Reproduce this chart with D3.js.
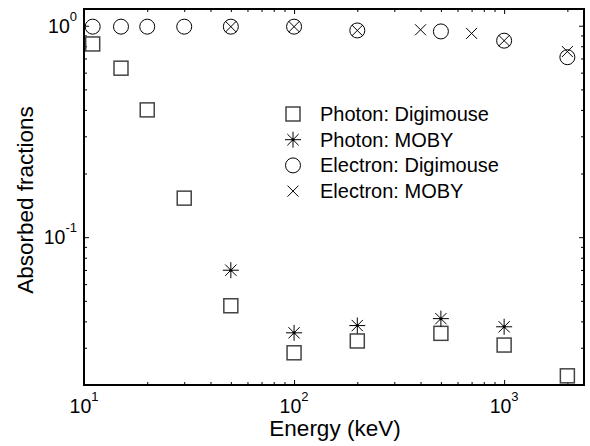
<!DOCTYPE html>
<html>
<head>
<meta charset="utf-8">
<script src="https://cdn.jsdelivr.net/npm/d3@7"></script>
<style>
  body { margin: 0; background: #fff; }
  text { font-family: Arial, "Liberation Sans", sans-serif; fill: #000; }
</style>
</head>
<body>
<svg id="chart" width="590" height="446"></svg>
<script>
// values
const energyPhotonDigi = [11, 15, 20, 30, 50, 100, 200, 500, 1000, 2000];
const photonDigi = [0.82, 0.63, 0.40, 0.153, 0.0474, 0.0284, 0.0323, 0.0351, 0.0309, 0.0221];
const energyPhotonMoby = [50, 100, 200, 500, 1000];
const photonMoby = [0.0698, 0.0353, 0.0382, 0.0412, 0.0377];
const energyElectronDigi = [11, 15, 20, 30, 50, 100, 200, 500, 1000, 2000];
const electronDigi = [0.99, 0.99, 0.99, 0.99, 0.99, 0.99, 0.95, 0.94, 0.85, 0.71];
const energyElectronMoby = [50, 100, 200, 400, 700, 1000, 2000];
const electronMoby = [0.99, 0.99, 0.95, 0.957, 0.92, 0.85, 0.755];

const xMajor = [10, 100, 1000];
const xMajorLabels = ['1', '2', '3'];
const yMajor = [0.1, 1];
const yMajorLabels = ['-1', '0'];
const legendLabels = ['Photon: Digimouse', 'Photon: MOBY', 'Electron: Digimouse', 'Electron: MOBY'];

const margin = { left: 84, top: 9, right: 6, bottom: 61 };
const width = 590 - margin.left - margin.right;
const height = 446 - margin.top - margin.bottom;

const svg = d3.select('#chart');
const g = svg.append('g').attr('transform', `translate(${margin.left},${margin.top})`);

const x = d3.scaleLog().domain([10, 2400]).range([0, width]);
const y = d3.scaleLog().domain([0.02, 1.2]).range([height, 0]);

// minor ticks for each decade
function minors(lo, hi) {
    let out = [];
    for (let d = Math.pow(10, Math.floor(Math.log10(lo))); d <= hi; d *= 10) {
        for (let k = 2; k <= 9; k++) {
            const v = k * d;
            if (v >= lo && v <= hi) out.push(v);
        }
    }
    return out;
}
const xMinor = minors(10, 2400);
const yMinor = minors(0.02, 1.2);

function tickAxis(axisFn, scale, major, minor) {
    return [
        axisFn(scale).tickValues(minor).tickSize(-3).tickFormat(''),
        axisFn(scale).tickValues(major).tickSize(-5).tickFormat('')
    ];
}

const placements = [
    { fn: d3.axisBottom, s: x, maj: xMajor, min: xMinor, t: `translate(0,${height})` },
    { fn: d3.axisTop, s: x, maj: xMajor, min: xMinor, t: 'translate(0,0)' },
    { fn: d3.axisLeft, s: y, maj: yMajor, min: yMinor, t: 'translate(0,0)' },
    { fn: d3.axisRight, s: y, maj: yMajor, min: yMinor, t: `translate(${width},0)` }
];
placements.forEach(p => {
    tickAxis(p.fn, p.s, p.maj, p.min).forEach(ax => {
        const a = g.append('g').attr('transform', p.t).call(ax);
        a.select('.domain').remove();
        a.selectAll('line').attr('stroke', '#000').attr('stroke-width', 1);
    });
});

// frame
g.append('rect')
    .attr('width', width).attr('height', height)
    .attr('fill', 'none').attr('stroke', '#000').attr('stroke-width', 2);

// tick labels
xMajor.forEach((v, i) => {
    const t = g.append('text')
        .attr('x', x(v)).attr('y', height + 28)
        .attr('text-anchor', 'middle')
        .style('font-size', '19.5px');
    t.append('tspan').text('10');
    t.append('tspan').attr('dy', -12).style('font-size', '13px').text(xMajorLabels[i]);
});
yMajor.forEach((v, i) => {
    const t = g.append('text')
        .attr('x', -7).attr('y', y(v) + 7)
        .attr('text-anchor', 'end')
        .style('font-size', '19.5px');
    t.append('tspan').text('10');
    t.append('tspan').attr('dy', -12).style('font-size', '13px').text(yMajorLabels[i]);
});

// axis titles
svg.append('text')
    .attr('x', margin.left + 251).attr('y', 436)
    .attr('text-anchor', 'middle')
    .style('font-size', '22.5px')
    .text('Energy (keV)');
svg.append('text')
    .attr('transform', 'translate(33,200) rotate(-90)')
    .attr('text-anchor', 'middle')
    .style('font-size', '22.5px')
    .text('Absorbed fractions');

// marker painters
function square(sel, cx, cy) {
    sel.append('rect')
        .attr('x', cx - 7).attr('y', cy - 7).attr('width', 14).attr('height', 14)
        .attr('fill', 'none').attr('stroke', '#444').attr('stroke-width', 1.5);
}
function star(sel, cx, cy) {
    const r = 8;
    [0, 45, 90, 135].forEach(a => {
        const rad = a * Math.PI / 180;
        sel.append('line')
            .attr('x1', cx - r * Math.cos(rad)).attr('y1', cy - r * Math.sin(rad))
            .attr('x2', cx + r * Math.cos(rad)).attr('y2', cy + r * Math.sin(rad))
            .attr('stroke', '#000').attr('stroke-width', 1);
    });
    sel.append('circle').attr('cx', cx).attr('cy', cy).attr('r', 1.5).attr('fill', '#000');
}
function ring(sel, cx, cy) {
    sel.append('circle')
        .attr('cx', cx).attr('cy', cy).attr('r', 7.5)
        .attr('fill', 'none').attr('stroke', '#000').attr('stroke-width', 1);
}
function cross(sel, cx, cy) {
    const r = 5.5;
    sel.append('path')
        .attr('d', `M${cx - r},${cy - r}L${cx + r},${cy + r}M${cx - r},${cy + r}L${cx + r},${cy - r}`)
        .attr('stroke', '#000').attr('stroke-width', 1).attr('fill', 'none');
}

const series = [
    { xs: energyPhotonDigi, ys: photonDigi, mark: square },
    { xs: energyPhotonMoby, ys: photonMoby, mark: star },
    { xs: energyElectronDigi, ys: electronDigi, mark: ring },
    { xs: energyElectronMoby, ys: electronMoby, mark: cross }
];
series.forEach(s => {
    const grp = g.append('g');
    s.xs.forEach((e, i) => s.mark(grp, x(e), y(s.ys[i])));
});

// legend
const legend = svg.append('g');
legendLabels.forEach((lab, i) => {
    const ly = 114 + i * 25.7;
    series[i].mark(legend, 293, ly);
    legend.append('text')
        .attr('x', 320).attr('y', ly + 7)
        .style('font-size', '20px')
        .text(lab);
});
</script>
</body>
</html>
